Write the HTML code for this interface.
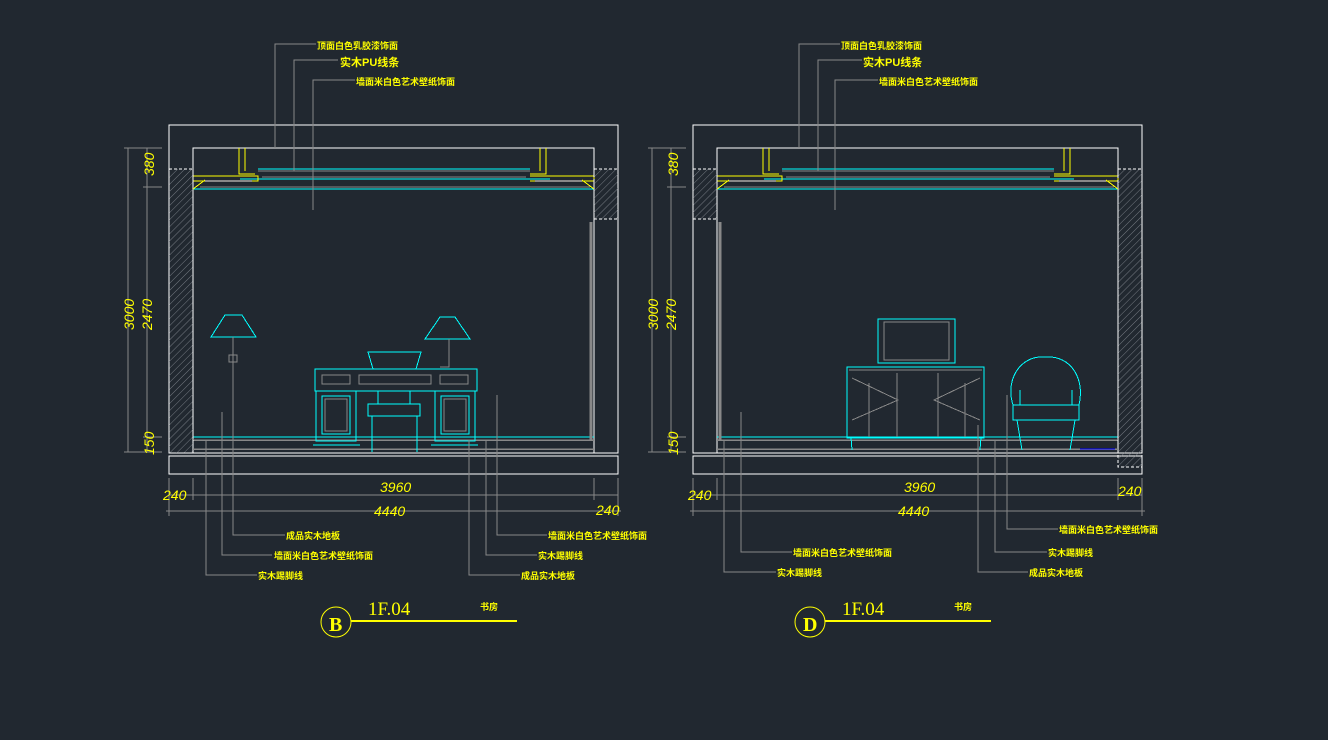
<!DOCTYPE html>
<html><head><meta charset="utf-8"><style>
html,body{margin:0;padding:0;background:#212830;}
svg{display:block}
.l{font-family:"Liberation Sans","Noto Sans CJK SC",sans-serif;font-size:9px;font-weight:bold;fill:#ffff00}
.d{font-family:"Liberation Sans",sans-serif;font-size:14px;fill:#ffff00;font-style:italic}
line,path,rect{shape-rendering:crispEdges}
</style></head><body>
<svg width="1328" height="740" viewBox="0 0 1328 740" xmlns="http://www.w3.org/2000/svg">
<defs>
<pattern id="h" width="5" height="5" patternUnits="userSpaceOnUse" patternTransform="rotate(45)">
<line x1="0" y1="0" x2="0" y2="5" stroke="#8a8f96" stroke-width="0.8"/>
</pattern>
<g id="ceil">
<rect x="169" y="125" width="449" height="328" fill="none" stroke="#fff" stroke-width="1.2"/>
<path d="M193 453V148H594V453" fill="none" stroke="#fff" stroke-width="1.2"/>
<path d="M239 148V174H255M245 148V171M540 148V171M546 148V174H530" fill="none" stroke="#ff0" stroke-width="1"/>
<line x1="258" y1="169" x2="530" y2="169" stroke="#0ff"/>
<line x1="258" y1="171" x2="530" y2="171" stroke="#888"/>
<line x1="262" y1="177" x2="526" y2="177" stroke="#888"/>
<line x1="240" y1="179" x2="550" y2="179" stroke="#0ff"/>
<line x1="200" y1="187" x2="590" y2="187" stroke="#888"/>
<line x1="193" y1="189" x2="594" y2="189" stroke="#0ff"/>
<path d="M193 176H258V181H193M530 176H594V181H530M193 189L205 180M594 189L582 180" fill="none" stroke="#ff0"/>
<line x1="205" y1="181" x2="252" y2="181" stroke="#888" stroke-width="2"/>
<line x1="535" y1="181" x2="582" y2="181" stroke="#888" stroke-width="2"/>
<line x1="193" y1="437" x2="594" y2="437" stroke="#0ff"/>
<line x1="193" y1="440" x2="594" y2="440" stroke="#888" stroke-width="1.5"/>
<line x1="193" y1="449" x2="594" y2="449" stroke="#888" stroke-width="1.5"/>
<rect x="169" y="456" width="449" height="18" fill="none" stroke="#fff" stroke-width="1.2"/>
<g stroke="#888" stroke-width="1">
<line x1="128" y1="148" x2="128" y2="452"/><line x1="147" y1="148" x2="147" y2="452"/>
<line x1="124" y1="148" x2="162" y2="148"/><line x1="143" y1="187" x2="162" y2="187"/>
<line x1="143" y1="437" x2="162" y2="437"/><line x1="124" y1="452" x2="162" y2="452"/>
<line x1="169" y1="495" x2="618" y2="495"/><line x1="166" y1="511" x2="621" y2="511"/>
<line x1="193" y1="478" x2="193" y2="500"/><line x1="594" y1="478" x2="594" y2="500"/>
<line x1="169" y1="478" x2="169" y2="516"/><line x1="618" y1="478" x2="618" y2="516"/>
</g>
<g fill="#ff0">
<text class="d" transform="translate(154,176) rotate(-90)">380</text>
<text class="d" transform="translate(134,330) rotate(-90)">3000</text>
<text class="d" transform="translate(152,330) rotate(-90)">2470</text>
<text class="d" transform="translate(154,455) rotate(-90)">150</text>
<text class="d" x="380" y="492">3960</text>
<text class="d" x="374" y="516">4440</text>
</g>
</g>
</defs>

<use href="#ceil"/>
<rect x="169" y="169" width="24" height="284" fill="url(#h)" stroke="#fff" stroke-dasharray="3,2"/>
<rect x="594" y="169" width="24" height="50" fill="url(#h)" stroke="#fff" stroke-dasharray="3,2"/>
<line x1="591" y1="222" x2="591" y2="440" stroke="#888" stroke-width="3"/>
<text class="d" x="163" y="500">240</text><text class="d" x="596" y="515">240</text>
<g fill="none" stroke="#0ff">
<path d="M211 337L225 315H242L256 337Z"/><path d="M425 339L440 317H455L470 339Z"/>
<rect x="315" y="369" width="162" height="22"/><rect x="316" y="391" width="40" height="50"/><rect x="435" y="391" width="40" height="50"/>
<rect x="322" y="396" width="28" height="38"/><rect x="441" y="396" width="28" height="38"/>
<path d="M368 352H421L416 369H373Z"/><rect x="368" y="404" width="52" height="12"/>
<path d="M372 416V452M417 416V452M313 445H360M431 445H478M378 391V404M410 391V404"/>
</g>
<g fill="none" stroke="#888">
<path d="M233 337V447M449 339V367H440M229 449H240M229 355H237V362H229Z"/>
<rect x="322" y="375" width="28" height="9"/><rect x="359" y="375" width="72" height="9"/><rect x="440" y="375" width="28" height="9"/>
<rect x="325" y="399" width="22" height="32"/><rect x="444" y="399" width="22" height="32"/>
</g>
<g stroke="#888" fill="none">
<path d="M275 148V44H316M294 171V60H338M313 210V80H355"/>
<path d="M233 337V535H285M222 412V555H272M206 440V575H257M497 395V535H547M486 440V555H537M469 440V575H520"/>
</g>
<text class="l" x="317" y="49">顶面白色乳胶漆饰面</text>
<text class="l" x="340" y="66" style="font-size:11px">实木PU线条</text>
<text class="l" x="356" y="85">墙面米白色艺术壁纸饰面</text>
<text class="l" x="286" y="539">成品实木地板</text>
<text class="l" x="274" y="559">墙面米白色艺术壁纸饰面</text>
<text class="l" x="258" y="579">实木踢脚线</text>
<text class="l" x="548" y="539">墙面米白色艺术壁纸饰面</text>
<text class="l" x="538" y="559">实木踢脚线</text>
<text class="l" x="521" y="579">成品实木地板</text>
<circle cx="336" cy="622" r="15" fill="none" stroke="#ff0"/>
<text x="329" y="631" style="font-family:'Liberation Serif',serif;font-weight:bold;font-size:20px;fill:#ff0">B</text>
<line x1="351" y1="621" x2="517" y2="621" stroke="#ff0" stroke-width="2"/>
<text x="368" y="615" style="font-family:'Liberation Serif',serif;font-size:19px;fill:#ff0">1F.04</text>
<text class="l" x="480" y="610">书房</text>

<use href="#ceil" transform="translate(524,0)"/>
<rect x="693" y="169" width="24" height="50" fill="url(#h)" stroke="#fff" stroke-dasharray="3,2"/>
<rect x="1118" y="169" width="24" height="298" fill="url(#h)" stroke="#fff" stroke-dasharray="3,2"/>
<line x1="720" y1="222" x2="720" y2="440" stroke="#888" stroke-width="3"/>
<text class="d" x="688" y="500">240</text><text class="d" x="1118" y="496">240</text>
<g fill="none" stroke="#0ff">
<rect x="878" y="319" width="77" height="44"/><rect x="847" y="367" width="137" height="71"/>
<path d="M851 437L852 450M981 437L980 450"/>
<path d="M1013 405C1005 380 1020 355 1045 357C1072 355 1085 380 1079 405M1013 405H1079V420H1013ZM1017 420L1022 450M1075 420L1070 450M1020 405V390M1072 405V390"/>
<line x1="1080" y1="449" x2="1115" y2="449" stroke="#00f"/>
</g>
<g fill="none" stroke="#888">
<rect x="884" y="322" width="65" height="38"/><path d="M852 378L898 400L852 420M980 378L934 400L980 420M869 383V437M897 373V437M938 373V437M965 383V437M849 370H982"/>
</g>
<g stroke="#888" fill="none">
<path d="M799 148V44H840M818 171V60H862M835 210V80H878"/>
<path d="M741 412V552H792M724 440V572H776M1007 395V529H1058M995 440V552H1047M978 425V572H1028"/>
</g>
<text class="l" x="841" y="49">顶面白色乳胶漆饰面</text>
<text class="l" x="863" y="66" style="font-size:11px">实木PU线条</text>
<text class="l" x="879" y="85">墙面米白色艺术壁纸饰面</text>
<text class="l" x="793" y="556">墙面米白色艺术壁纸饰面</text>
<text class="l" x="777" y="576">实木踢脚线</text>
<text class="l" x="1059" y="533">墙面米白色艺术壁纸饰面</text>
<text class="l" x="1048" y="556">实木踢脚线</text>
<text class="l" x="1029" y="576">成品实木地板</text>
<circle cx="810" cy="622" r="15" fill="none" stroke="#ff0"/>
<text x="803" y="631" style="font-family:'Liberation Serif',serif;font-weight:bold;font-size:20px;fill:#ff0">D</text>
<line x1="825" y1="621" x2="991" y2="621" stroke="#ff0" stroke-width="2"/>
<text x="842" y="615" style="font-family:'Liberation Serif',serif;font-size:19px;fill:#ff0">1F.04</text>
<text class="l" x="954" y="610">书房</text>
</svg>
</body></html>
